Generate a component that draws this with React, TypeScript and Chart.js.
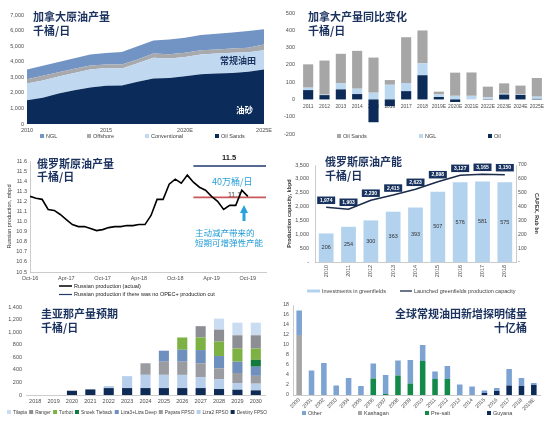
import React, { useEffect, useRef } from 'react';
import { Chart, registerables } from 'chart.js';

Chart.register(...registerables);

const SANS = '"Liberation Sans", Arial, Helvetica, sans-serif';
const CJK = '"Noto Sans CJK SC", "Noto Sans", sans-serif';
const NAVY = '#0c2b59';
const TITLE_COLOR = '#1b325f';
const TICK_COLOR = '#4d4d4d';

// ---------- Panel 1: Canada crude production (kb/d)
const caYears = ['2010', '2011', '2012', '2013', '2014', '2015', '2016', '2017', '2018', '2019', '2020E', '2021E', '2022E', '2023E', '2024E', '2025E'];
const caOilSands = [1530, 1680, 1960, 2170, 2350, 2450, 2470, 2710, 2920, 2960, 3070, 3200, 3240, 3280, 3350, 3500];
const caConventional = [1070, 1120, 1090, 1110, 1150, 1150, 1090, 1190, 1340, 1240, 1240, 1260, 1280, 1300, 1250, 1230];
const caOffshore = [280, 300, 270, 270, 250, 220, 260, 250, 260, 280, 270, 270, 270, 270, 300, 370];
const caNGL = [620, 640, 660, 670, 710, 740, 810, 850, 850, 940, 960, 980, 1010, 1030, 1070, 980];

// ---------- Panel 2: Canada production YoY change (kb/d)
const chgYears = ['2011', '2012', '2013', '2014', '2015', '2016', '2017', '2018', '2019E', '2020E', '2021E', '2022E', '2023E', '2024E', '2025E'];
const chgOil = [54, 25, 58, 31, -132, -39, 48, 140, 14, -15, 0, 2, 28, 26, 3];
const chgNGL = [14, 3, 35, 31, 39, 85, 47, 69, 15, 21, 21, 10, 5, 3, 13];
const chgOilSands = [135, 197, 171, 219, 203, 27, 265, 190, 16, 134, 135, 62, 60, 51, 108];

// ---------- Panel 3: Russian crude production (mbpd), monthly Oct-16 .. Oct-19
const ruTickLabels = ['Oct-16', 'Apr-17', 'Oct-17', 'Apr-18', 'Oct-18', 'Apr-19', 'Oct-19'];
const ruActual = [11.25, 11.23, 11.22, 11.12, 11.11, 11.07, 11.02, 10.97, 10.95, 10.95, 10.93, 10.91, 10.92, 10.94, 10.95, 10.95, 10.96, 10.96, 10.97, 10.97, 11.06, 11.22, 11.22, 11.37, 11.42, 11.38, 11.46, 11.39, 11.34, 11.31, 11.25, 11.2, 11.12, 11.16, 11.16, 11.31, 11.25];
const ruRefSpan = [27, 39];
const ruNoCutLevel = 11.55;
const ruCutLevel = 11.24;

// ---------- Panel 4: Russian greenfield capacity
const rcYears = ['2010', '2011', '2012', '2013', '2014', '2015', '2016', '2017', '2018'];
const rcCapacity = [1974, 1903, 2230, 2415, 2623, 2898, 3127, 3165, 3150];
const rcCapex = [206, 254, 300, 363, 393, 507, 576, 581, 575];

// ---------- Panel 5: Guyana production outlook (kb/d)
const gyYears = ['2018', '2019', '2020', '2021', '2022', '2023', '2024', '2025', '2026', '2027', '2028', '2029', '2030'];
const gyDestiny = [0, 0, 68, 89, 110, 110, 110, 110, 110, 110, 95, 84, 74];
const gyLiza2 = [0, 0, 0, 0, 32, 190, 211, 211, 210, 175, 155, 106, 106];
const gyPayara = [0, 0, 0, 0, 0, 0, 184, 209, 210, 220, 175, 160, 125];
const gyLiza3 = [0, 0, 0, 0, 0, 0, 0, 175, 190, 210, 195, 180, 145];
const gySnoek = [0, 0, 0, 0, 0, 0, 0, 0, 0, 0, 0, 0, 110];
const gyTurbot = [0, 0, 0, 0, 0, 0, 0, 0, 195, 200, 230, 210, 180];
const gyRanger = [0, 0, 0, 0, 0, 0, 0, 0, 0, 180, 190, 210, 210];
const gyTilapia = [0, 0, 0, 0, 0, 0, 0, 0, 0, 0, 175, 200, 200];

// ---------- Panel 6: global conventional discoveries (bn bbl)
const wrYears = ['2000', '2001', '2002', '2003', '2004', '2005', '2006', '2007', '2008', '2009', '2010', '2011', '2012', '2013', '2014', '2015', '2016', '2017', '2018', '2019E'];
const wrOther = [4.9, 4.9, 6.4, 1.9, 3.4, 1.8, 3.0, 3.8, 3.0, 4.7, 3.2, 1.5, 2.6, 2.1, 1.7, 0.5, 0.6, 3.3, 1.6, 0.4];
const wrKashagan = [12.0, 0, 0, 0, 0, 0, 0, 0, 0, 0, 0, 0, 0, 0, 0, 0, 0, 0, 0, 0];
const wrPreSalt = [0, 0, 0, 0, 0, 0, 3.3, 0.2, 3.9, 2.3, 6.8, 3.2, 3.2, 0, 0, 0, 0, 0, 0, 0];
const wrGuyana = [0, 0, 0, 0, 0, 0, 0, 0, 0, 0, 0, 0, 0, 0, 0, 0.4, 0.8, 1.9, 1.8, 2.0];

// ---------- helpers
const noGrid = { display: false, drawTicks: false };
const fnt = (size: number, weight?: any) => ({ family: SANS, size, weight });
const fixW = (w: number) => (s: any) => { s.width = w; };
const fixH = (h: number) => (s: any) => { s.height = h; };
const AXIS_LINE = { display: true, color: '#bfbfbf', width: 0.8 };
const NO_BORDER = { display: false };
const fmt = (v: any) => Number(v).toLocaleString('en-US');

type LegItem = { index: number; x?: number; y?: number; kind?: 'box' | 'line'; lw?: number; w?: number; bg?: boolean };
function legendPlugin(cfg: { y: number; size?: number; x0?: number; spacing?: number; color?: string; items: LegItem[] }) {
  return {
    id: 'fixedLegend',
    afterDraw(chart: any) {
      const { ctx } = chart;
      ctx.save();
      ctx.font = `${cfg.size ?? 5.5}px ${SANS}`;
      ctx.textBaseline = 'middle';
      ctx.textAlign = 'left';
      let cursor = cfg.x0 ?? 0;
      for (const it of cfg.items) {
        const ds = chart.data.datasets[it.index];
        const x = it.x ?? cursor;
        const y = it.y ?? cfg.y;
        let mw = 4;
        if (it.kind === 'line') {
          mw = it.w ?? 13;
          ctx.strokeStyle = it.bg ? ds.backgroundColor : ds.borderColor;
          ctx.lineWidth = it.lw ?? 1.4;
          ctx.beginPath();
          ctx.moveTo(x, y);
          ctx.lineTo(x + mw, y);
          ctx.stroke();
        } else {
          ctx.fillStyle = ds.backgroundColor;
          ctx.fillRect(x, y - 2, 4, 4);
        }
        ctx.fillStyle = cfg.color ?? '#404040';
        const tx = x + mw + 2;
        ctx.fillText(ds.label, tx, y + 0.3);
        cursor = tx + ctx.measureText(ds.label).width + (cfg.spacing ?? 4);
      }
      ctx.restore();
    },
  };
}

const baseOpts = (padding: any) => ({
  responsive: false,
  animation: false as const,
  maintainAspectRatio: false,
  layout: { padding },
  plugins: { legend: { display: false }, tooltip: { enabled: false }, title: { display: false } },
});

function cfgCanada(): any {
  const sets = [
    { label: 'Oil Sands', data: caOilSands, color: '#0b2b5b', fill: 'origin' },
    { label: 'Conventional', data: caConventional, color: '#c0d9f0', fill: '-1' },
    { label: 'Offshore', data: caOffshore, color: '#a8a9ad', fill: '-1' },
    { label: 'NGL', data: caNGL, color: '#7294c4', fill: '-1' },
  ];
  return {
    type: 'line',
    data: {
      labels: caYears,
      datasets: sets.map((s) => ({
        label: s.label, data: s.data, fill: s.fill, backgroundColor: s.color, borderColor: s.color,
        borderWidth: 0, pointRadius: 0, tension: 0,
      })),
    },
    options: {
      ...baseOpts({ left: 0, right: 8, top: 15, bottom: 0 }),
      scales: {
        x: {
          offset: false, grid: noGrid, border: NO_BORDER, afterFit: fixH(21),
          ticks: { autoSkip: false, maxRotation: 0, padding: 3, font: fnt(5.5), color: TICK_COLOR, callback: (_v: any, i: number) => (i % 5 === 0 ? caYears[i] : '') },
        },
        y: {
          stacked: true, min: 0, max: 7000, grid: noGrid, border: NO_BORDER, afterFit: fixW(27),
          ticks: { stepSize: 1000, padding: 3, font: fnt(5.5), color: TICK_COLOR, callback: fmt },
        },
      },
    },
    plugins: [legendPlugin({ y: 136, items: [{ index: 3, x: 40 }, { index: 2, x: 87 }, { index: 1, x: 145 }, { index: 0, x: 215 }] })],
  };
}

function cfgChange(): any {
  const sets = [
    { label: 'Oil', data: chgOil, color: NAVY },
    { label: 'NGL', data: chgNGL, color: '#bcd8f0' },
    { label: 'Oil Sands', data: chgOilSands, color: '#a6a6a6' },
  ];
  return {
    type: 'bar',
    data: {
      labels: chgYears,
      datasets: sets.map((s) => ({ label: s.label, data: s.data, backgroundColor: s.color, borderWidth: 0, barPercentage: 0.62, categoryPercentage: 1 })),
    },
    options: {
      ...baseOpts({ left: 0, right: 5, top: 13, bottom: 11 }),
      scales: {
        x: {
          stacked: true, position: { y: 0 }, offset: true, grid: noGrid, border: NO_BORDER,
          ticks: { autoSkip: false, maxRotation: 0, padding: 4, font: fnt(4.9), color: TICK_COLOR },
        },
        y: {
          stacked: true, min: -200, max: 500, grid: noGrid, border: NO_BORDER, afterFit: fixW(25),
          ticks: { stepSize: 100, padding: 5, font: fnt(5.5), color: TICK_COLOR },
        },
      },
    },
    plugins: [legendPlugin({ y: 136, items: [{ index: 2, x: 62 }, { index: 1, x: 144 }, { index: 0, x: 213 }] })],
  };
}

function cfgRussia(): any {
  return {
    type: 'line',
    data: {
      datasets: [
        { label: 'Russian production (actual)', data: ruActual.map((y, i) => ({ x: i, y })), borderColor: '#000000', borderWidth: 1.6, pointRadius: 0, tension: 0 },
        { label: 'Russian production if there was no OPEC+ production cut', data: ruRefSpan.map((x) => ({ x, y: ruNoCutLevel })), borderColor: '#1f3a6e', borderWidth: 1.5, pointRadius: 0 },
        { label: 'Current production level', data: ruRefSpan.map((x) => ({ x, y: ruCutLevel })), borderColor: '#c8585a', borderWidth: 1.6, pointRadius: 0 },
      ],
    },
    options: {
      ...baseOpts({ left: 0, right: 9, top: 16, bottom: 3 }),
      scales: {
        x: {
          type: 'linear', min: 0, max: 39, grid: noGrid, border: AXIS_LINE, afterFit: fixH(23),
          ticks: { stepSize: 6, includeBounds: false, autoSkip: false, maxRotation: 0, padding: 3, font: fnt(5.5), color: TICK_COLOR, callback: (v: any) => (Number(v) % 6 === 0 ? ruTickLabels[Number(v) / 6] ?? '' : '') },
        },
        y: {
          min: 10.5, max: 11.6, grid: noGrid, border: AXIS_LINE, afterFit: fixW(30),
          ticks: { stepSize: 0.1, padding: 3, font: fnt(5.5), color: TICK_COLOR, callback: (v: any) => Number(v).toFixed(1) },
          title: { display: true, text: 'Russian production, mbpd', font: fnt(5.5), color: '#333', padding: { top: 6, bottom: 0 } },
        },
      },
    },
    plugins: [legendPlugin({ y: 141, size: 5.5, color: '#222', items: [{ index: 0, x: 59, y: 141, kind: 'line', lw: 1.5 }, { index: 1, x: 59, y: 149.5, kind: 'line', lw: 1.2 }] })],
  };
}

const rcLabelPlugin = {
  id: 'rcLabels',
  afterDatasetsDraw(chart: any) {
    const { ctx } = chart;
    const line = chart.getDatasetMeta(0);
    const bars = chart.getDatasetMeta(1);
    ctx.save();
    ctx.textAlign = 'center';
    ctx.textBaseline = 'middle';
    ctx.font = `5.5px ${SANS}`;
    ctx.fillStyle = '#333';
    bars.data.forEach((b: any, i: number) => {
      ctx.fillText(String(rcCapex[i]), b.x, (b.y + b.base) / 2);
    });
    ctx.font = `bold 5px ${SANS}`;
    line.data.forEach((p: any, i: number) => {
      const w = 18;
      const h = 7.5;
      const cy = p.y - 7;
      ctx.fillStyle = '#17325e';
      ctx.fillRect(p.x - w / 2, cy - h / 2, w, h);
      ctx.fillStyle = '#ffffff';
      ctx.fillText(fmt(rcCapacity[i]), p.x, cy + 0.3);
    });
    ctx.restore();
  },
};

function cfgCapacity(): any {
  return {
    type: 'bar',
    data: {
      labels: rcYears,
      datasets: [
        { type: 'line', label: 'Launched greenfields production capacity', data: rcCapacity, yAxisID: 'y', borderColor: '#1b2b4a', borderWidth: 1.5, pointRadius: 0, order: 0, tension: 0 },
        { type: 'bar', label: 'Investments in greenfields', data: rcCapex, yAxisID: 'y1', backgroundColor: '#b2d2ee', borderWidth: 0, barPercentage: 0.66, categoryPercentage: 1, order: 1 },
      ],
    },
    options: {
      ...baseOpts({ left: 0, right: 0, top: 20, bottom: 0 }),
      scales: {
        x: {
          offset: true, grid: noGrid, border: AXIS_LINE, afterFit: fixH(33),
          ticks: { autoSkip: false, minRotation: 90, maxRotation: 90, padding: 3, font: fnt(5.5), color: TICK_COLOR },
        },
        y: {
          position: 'left', min: 0, max: 3500, grid: noGrid, border: AXIS_LINE, afterFit: fixW(40),
          ticks: { stepSize: 500, padding: 6, font: fnt(5.5), color: TICK_COLOR, callback: (v: any) => (Number(v) === 0 ? '-' : fmt(v)) },
          title: { display: true, text: 'Production capacity, kbpd', font: fnt(5.5, 'bold'), color: '#333', padding: { top: 11, bottom: 0 } },
        },
        y1: {
          position: 'right', min: 0, max: 700, grid: noGrid, border: AXIS_LINE, afterFit: fixW(34),
          ticks: { stepSize: 100, padding: 2, font: fnt(5.2), color: TICK_COLOR, callback: (v: any) => (Number(v) === 0 ? '-' : String(v)) },
          title: { display: true, text: 'CAPEX, Rub bn', font: fnt(5.5, 'bold'), color: '#333', padding: { top: 10, bottom: 0 } },
        },
      },
    },
    plugins: [rcLabelPlugin, legendPlugin({ y: 146, items: [{ index: 1, x: 32, kind: 'line', lw: 3, bg: true }, { index: 0, x: 125, kind: 'line', lw: 1.3, w: 12 }] })],
  };
}

function cfgGuyana(): any {
  const sets = [
    { label: 'Destiny FPSO', data: gyDestiny, color: '#0d2b55' },
    { label: 'Liza2 FPSO', data: gyLiza2, color: '#b7cfea' },
    { label: 'Payara FPSO', data: gyPayara, color: '#9a9ca1' },
    { label: 'Liza3+Liza Deep', data: gyLiza3, color: '#6f8fbe' },
    { label: 'Snoek Tieback', data: gySnoek, color: '#137a3e' },
    { label: 'Turbot', data: gyTurbot, color: '#7db143' },
    { label: 'Ranger', data: gyRanger, color: '#8d8e93' },
    { label: 'Tilapia', data: gyTilapia, color: '#c9dcf1' },
  ];
  return {
    type: 'bar',
    data: {
      labels: gyYears,
      datasets: sets.map((s) => ({ label: s.label, data: s.data, backgroundColor: s.color, borderWidth: 0, barPercentage: 0.55, categoryPercentage: 1 })),
    },
    options: {
      ...baseOpts({ left: 0, right: 10, top: 17, bottom: 0 }),
      scales: {
        x: {
          stacked: true, offset: true, grid: noGrid, border: AXIS_LINE, afterFit: fixH(27),
          ticks: { autoSkip: false, maxRotation: 0, padding: 3, font: fnt(5.5), color: TICK_COLOR },
        },
        y: {
          stacked: true, min: 0, max: 1400, grid: noGrid, border: NO_BORDER, afterFit: fixW(26),
          ticks: { stepSize: 200, padding: 4, font: fnt(5.5), color: TICK_COLOR },
        },
      },
    },
    plugins: [legendPlugin({ y: 122, size: 4.8, x0: 7, spacing: 2.2, items: [7, 6, 5, 4, 3, 2, 1, 0].map((index) => ({ index })) })],
  };
}

function cfgReserves(): any {
  const sets = [
    { label: 'Guyana', data: wrGuyana, color: NAVY },
    { label: 'Pre-salt', data: wrPreSalt, color: '#138a4a' },
    { label: 'Kashagan', data: wrKashagan, color: '#a6a6a6' },
    { label: 'Other', data: wrOther, color: '#7da3d3' },
  ];
  return {
    type: 'bar',
    data: {
      labels: wrYears,
      datasets: sets.map((s) => ({ label: s.label, data: s.data, backgroundColor: s.color, borderWidth: 0, barPercentage: 0.45, categoryPercentage: 1 })),
    },
    options: {
      ...baseOpts({ left: 0, right: 10, top: 15, bottom: 0 }),
      scales: {
        x: {
          stacked: true, offset: true, grid: noGrid, border: AXIS_LINE, afterFit: fixH(27),
          ticks: { autoSkip: false, minRotation: 45, maxRotation: 45, padding: 2, font: fnt(5.2), color: TICK_COLOR },
        },
        y: {
          stacked: true, min: 0, max: 18, grid: noGrid, border: AXIS_LINE, afterFit: fixW(18),
          ticks: { stepSize: 2, padding: 4, font: fnt(5.2), color: TICK_COLOR },
        },
      },
    },
    plugins: [legendPlugin({ y: 123, items: [{ index: 3, x: 27 }, { index: 2, x: 83 }, { index: 1, x: 150 }, { index: 0, x: 212 }] })],
  };
}

type TxtProps = { x: number; y: number; size: number; color: string; weight?: number; family?: string; lh?: number; right?: boolean; children: React.ReactNode };
function Txt({ x, y, size, color, weight = 400, family = CJK, lh, right, children }: TxtProps) {
  return (
    <div
      style={{
        position: 'absolute',
        left: right ? undefined : x,
        right: right ? 550 - x : undefined,
        top: y,
        fontSize: size,
        color,
        fontWeight: weight,
        fontFamily: family,
        lineHeight: `${lh ?? Math.round(size * 1.3)}px`,
        whiteSpace: 'pre',
        textAlign: right ? 'right' : 'left',
      }}
    >
      {children}
    </div>
  );
}

const PANELS = [
  { x: 0, y: 0, w: 275, h: 145, cfg: cfgCanada },
  { x: 275, y: 0, w: 275, h: 145, cfg: cfgChange },
  { x: 0, y: 145, w: 275, h: 153, cfg: cfgRussia },
  { x: 275, y: 145, w: 275, h: 150, cfg: cfgCapacity },
  { x: 0, y: 290, w: 275, h: 132, cfg: cfgGuyana },
  { x: 275, y: 290, w: 275, h: 132, cfg: cfgReserves },
];

export default function App() {
  const refs = useRef<(HTMLCanvasElement | null)[]>([]);

  useEffect(() => {
    Chart.defaults.font.family = SANS;
    const charts = PANELS.map((p, i) => new Chart(refs.current[i] as HTMLCanvasElement, p.cfg()));
    return () => charts.forEach((c) => c.destroy());
  }, []);

  const T = 13.5;
  return (
    <div style={{ position: 'absolute', left: 0, top: 0, width: 550, height: 422, background: '#ffffff', overflow: 'hidden' }}>
      {/* label drawn beneath the red reference line */}
      <Txt x={228} y={190} size={7} color="#444" family={SANS} lh={10}>11.1</Txt>
      {PANELS.map((p, i) => (
        <canvas
          key={i}
          ref={(el) => { refs.current[i] = el; }}
          width={p.w}
          height={p.h}
          style={{ position: 'absolute', left: p.x, top: p.y, width: p.w, height: p.h, display: 'block' }}
        />
      ))}

      {/* titles */}
      <Txt x={33} y={10} size={11} color={TITLE_COLOR} weight={700} lh={T}>{'加拿大原油产量\n千桶/日'}</Txt>
      <Txt x={308} y={10} size={11} color={TITLE_COLOR} weight={700} lh={T}>{'加拿大产量同比变化\n千桶/日'}</Txt>
      <Txt x={37} y={156.5} size={11} color={TITLE_COLOR} weight={700} lh={T}>{'俄罗斯原油产量\n千桶/日'}</Txt>
      <Txt x={325} y={155} size={11} color={TITLE_COLOR} weight={700} lh={T}>{'俄罗斯原油产能\n千桶/日'}</Txt>
      <Txt x={41} y={307} size={11} color={TITLE_COLOR} weight={700} lh={T}>{'圭亚那产量预期\n千桶/日'}</Txt>
      <Txt x={527} y={307} size={11} color={TITLE_COLOR} weight={700} lh={T} right>{'全球常规油田新增探明储量\n十亿桶'}</Txt>

      {/* panel 1 annotations */}
      <Txt x={220} y={55} size={9} color={TITLE_COLOR} weight={700} lh={12}>常规油田</Txt>
      <Txt x={236} y={103} size={8.5} color="#ffffff" weight={700} lh={12}>油砂</Txt>

      {/* panel 3 annotations */}
      <Txt x={222} y={153} size={7.5} color="#222" weight={700} family={SANS} lh={10}>11.5</Txt>
      <Txt x={212} y={176} size={9} color="#2b9fd8" lh={12}>40万桶/日</Txt>
      <svg style={{ position: 'absolute', left: 240, top: 205 }} width={8} height={16}>
        <polygon points="4,0 8,8 5.5,8 5.5,16 2.5,16 2.5,8 0,8" fill="#2aa3dc" />
      </svg>
      <Txt x={195} y={227} size={8.5} color="#1f9ad6" lh={10.4}>{'主动减产带来的\n短期可增弹性产能'}</Txt>
    </div>
  );
}
